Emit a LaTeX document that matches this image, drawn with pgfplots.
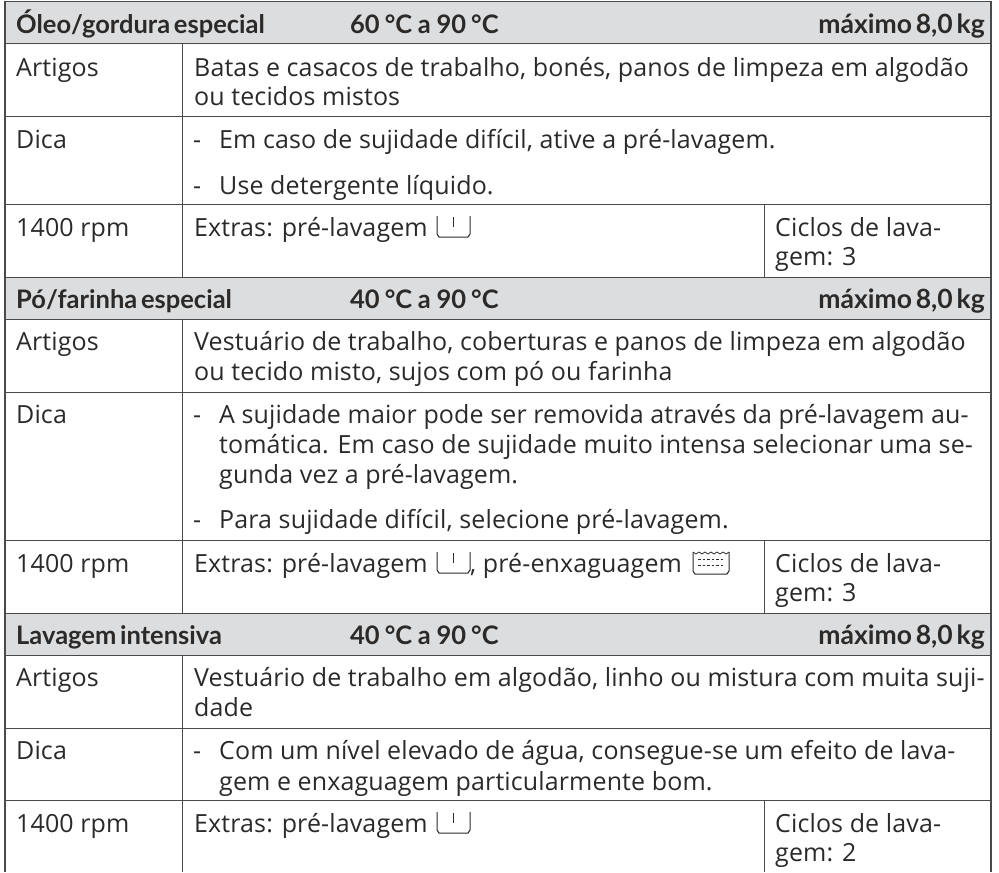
\documentclass[border=0pt]{standalone}
\usepackage{pgfplots}
\pgfplotsset{compat=1.18}
\usepackage{fontspec}
\setmainfont{Open Sans}[LetterSpace=0.5]
\newfontfamily\hd{Lato}[BoldFont=Lato Bold,WordSpace=0.6]
\definecolor{ink}{HTML}{2B2A29}
\definecolor{rule}{HTML}{4A4A4A}
\definecolor{head}{HTML}{DCDDDE}
\newcommand\T[3]{\node[anchor=base west,inner sep=0pt,text=ink] at (axis cs:#1,#2) {\fontsize{25pt}{29pt}\selectfont #3};}
\newcommand\B[3]{\node[anchor=base west,inner sep=0pt,text=ink] at (axis cs:#1,#2) {\fontsize{25.5pt}{29pt}\selectfont\hd\bfseries #3};}
\newcommand\R[3]{\node[anchor=base east,inner sep=0pt,text=ink] at (axis cs:#1,#2) {\fontsize{26.5pt}{29pt}\selectfont\hd\bfseries #3};}
\newcommand\tmp[2]{#1\hspace{0.2em}°C\hspace{0.22em}a\hspace{0.22em}#2\hspace{0.2em}°C}
\newcommand\pre[2]{%
\addplot[ink,line width=1pt] coordinates {(#1,#2-21) (#1,#2-3) (#1+2,#2) (#1+31,#2) (#1+33,#2-3) (#1+33,#2-21)};
\addplot[ink,line width=1pt] coordinates {(#1+16,#2-20) (#1+16,#2-10)};}
\begin{document}
\begin{tikzpicture}
\path (0,0) rectangle (999pt,872pt);
\begin{axis}[scale only axis,width=999pt,height=872pt,xmin=0,xmax=999,ymin=0,ymax=872,y dir=reverse,axis lines=none,clip=false,anchor=south west,at={(0,0)}]
% header bands
\addplot[fill=head,draw=none] coordinates {(5,1) (991,1) (991,44) (5,44)} \closedcycle;
\addplot[fill=head,draw=none] coordinates {(5,277) (991,277) (991,319) (5,319)} \closedcycle;
\addplot[fill=head,draw=none] coordinates {(5,613) (991,613) (991,655) (5,655)} \closedcycle;
% frame & rules
\pgfplotsinvokeforeach{1,43.5,116.5,204,277,319.5,392.5,540.5,613,655.5,728,800.5}{
\addplot[rule,line width=1pt] coordinates {(5,#1) (991,#1)};}
\addplot[rule,line width=1.1pt] coordinates {(5,1) (5,872)};
\addplot[rule,line width=1.1pt] coordinates {(991,1) (991,872)};
\addplot[rule,line width=1pt] coordinates {(182.5,43.5) (182.5,277)};
\addplot[rule,line width=1pt] coordinates {(182.5,319.5) (182.5,613)};
\addplot[rule,line width=1pt] coordinates {(182.5,655.5) (182.5,872)};
\addplot[rule,line width=1pt] coordinates {(764,204) (764,277)};
\addplot[rule,line width=1pt] coordinates {(764,540.5) (764,613)};
\addplot[rule,line width=1pt] coordinates {(764,800.5) (764,872)};
% block 1
\B{16}{33}{Óleo/gordura especial}
\B{350}{33}{\tmp{60}{90}}
\R{985}{33}{máximo 8,0 kg}
\T{16}{76}{Artigos}
\T{194}{76}{Batas e casacos de trabalho, bonés, panos de limpeza em algodão}
\T{194}{105}{ou tecidos mistos}
\T{16}{148}{Dica}
\T{193}{148}{-}\T{219}{148}{Em caso de sujidade difícil, ative a pré-lavagem.}
\T{193}{194}{-}\T{219}{194}{Use detergente líquido.}
\T{16}{236}{1400 rpm}
\T{194}{236}{Extras: pré-lavagem}
\pre{437}{237}
\T{775}{236}{Ciclos de lava-}
\T{775}{265}{gem: 3}
% block 2
\B{16}{308}{Pó/farinha especial}
\B{350}{308}{\tmp{40}{90}}
\R{985}{308}{máximo 8,0 kg}
\T{16}{350}{Artigos}
\T{194}{350}{Vestuário de trabalho, coberturas e panos de limpeza em algodão}
\T{194}{380}{ou tecido misto, sujos com pó ou farinha}
\T{16}{423}{Dica}
\T{193}{423}{-}\T{219}{423}{A sujidade maior pode ser removida através da pré-lavagem au-}
\T{219}{453}{tomática. Em caso de sujidade muito intensa selecionar uma se-}
\T{219}{483}{gunda vez a pré-lavagem.}
\T{193}{528}{-}\T{219}{528}{Para sujidade difícil, selecione pré-lavagem.}
\T{16}{572}{1400 rpm}
\T{194}{572}{Extras: pré-lavagem}
\pre{437}{573}
\T{470}{572}{, pré-enxaguagem}
% pre-rinse icon
\addplot[ink,line width=1pt] coordinates {(693,552) (693,571) (695,574) (727,574) (729,571) (729,552)};
\addplot[ink,line width=0.8pt] coordinates {(693,552) (696,554) (699,552) (702,554) (705,552) (708,554) (711,552) (714,554) (717,552) (720,554) (723,552) (726,554) (729,552)};
\addplot[ink,line width=0.8pt,dash pattern=on 2.5pt off 2pt] coordinates {(698,559) (724,559)};
\addplot[ink,line width=0.8pt,dash pattern=on 2.5pt off 2pt] coordinates {(698,565) (724,565)};
\T{775}{572}{Ciclos de lava-}
\T{775}{601}{gem: 3}
% block 3
\B{16}{644}{Lavagem intensiva}
\B{350}{644}{\tmp{40}{90}}
\R{985}{644}{máximo 8,0 kg}
\T{16}{686}{Artigos}
\T{194}{686}{Vestuário de trabalho em algodão, linho ou mistura com muita suji-}
\T{194}{716}{dade}
\T{16}{759}{Dica}
\T{193}{759}{-}\T{219}{759}{Com um nível elevado de água, consegue-se um efeito de lava-}
\T{219}{790}{gem e enxaguagem particularmente bom.}
\T{16}{832}{1400 rpm}
\T{194}{832}{Extras: pré-lavagem}
\pre{437}{833}
\T{775}{832}{Ciclos de lava-}
\T{775}{861}{gem: 2}
\end{axis}
\end{tikzpicture}
\end{document}
